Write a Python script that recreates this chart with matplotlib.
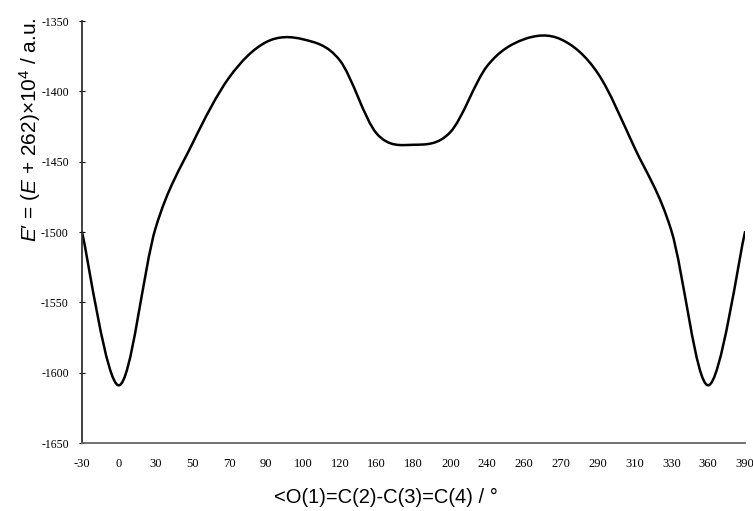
import numpy as np
import matplotlib
matplotlib.use("Agg")
import matplotlib.pyplot as plt
from matplotlib.path import Path
from matplotlib.patches import PathPatch

# dihedral angle categories (evenly spaced on the axis, like an Excel category axis)
angles = ["-30", "0", "30", "50", "70", "90", "100", "120", "160", "180",
          "200", "240", "260", "270", "290", "310", "330", "360", "390"]
# E' values
energy = [-1500, -1609, -1497, -1437, -1390, -1365, -1363, -1378, -1430, -1438,
          -1429, -1382, -1363, -1363, -1387, -1440, -1499, -1609, -1500]
yticks = [-1650, -1600, -1550, -1500, -1450, -1400, -1350]

plt.rcParams['mathtext.fontset'] = 'custom'
plt.rcParams['mathtext.rm'] = 'Liberation Sans'
plt.rcParams['mathtext.it'] = 'Liberation Sans:italic'


def smooth_path(x, y):
    # excel-style smoothed line: bezier segments through every point
    x = np.asarray(x, float)
    y = np.asarray(y, float)
    n = len(x)
    verts = [(x[0], y[0])]
    codes = [Path.MOVETO]
    for i in range(n - 1):
        xp, yp = (x[i - 1], y[i - 1]) if i > 0 else (x[i], y[i])
        xn, yn = (x[i + 2], y[i + 2]) if i + 2 < n else (x[i + 1], y[i + 1])
        c1 = (x[i] + (x[i + 1] - xp) / 6, y[i] + (y[i + 1] - yp) / 6)
        c2 = (x[i + 1] - (xn - x[i]) / 6, y[i + 1] - (yn - y[i]) / 6)
        verts += [c1, c2, (x[i + 1], y[i + 1])]
        codes += [Path.CURVE4] * 3
    return Path(verts, codes)


fig = plt.figure(figsize=(7.53, 5.11), dpi=100)
ax = fig.add_axes([82 / 753, 1 - 443 / 511, (745 - 82) / 753, (443 - 21) / 511])

pos = np.arange(len(angles))
ax.add_patch(PathPatch(smooth_path(pos, energy), fill=False, lw=1.8, color='black',
                       capstyle='round', joinstyle='round'))

ax.set_xlim(0, len(angles) - 1)
ax.set_ylim(-1650, -1350)
ax.set_xticks(pos)
ax.set_xticklabels(angles, family='Liberation Serif', fontsize=9)
ax.set_yticks(yticks)
ax.set_yticklabels([str(v) for v in yticks], family='Liberation Serif', fontsize=8.5)
ax.tick_params(axis='x', length=0, pad=11)
ax.tick_params(axis='y', direction='inout', length=5, width=0.8, pad=7)

for s in ['top', 'right']:
    ax.spines[s].set_visible(False)
ax.spines['left'].set_color('#333333')
ax.spines['left'].set_linewidth(1.3)
ax.spines['bottom'].set_color('#666666')
ax.spines['bottom'].set_linewidth(1.3)

fig.text(386 / 753, 1 - 497 / 511, "<O(1)=C(2)-C(3)=C(4) / °",
         family='Liberation Sans', fontsize=14.5, ha='center', va='center')
fig.text(30 / 753, 1 - 130 / 511, r"$E$′ = ($E$ + 262)×10$^4$ / a.u.",
         family='Liberation Sans', fontsize=15, rotation=90, ha='center', va='center')

fig.savefig("out.png", dpi=100)
